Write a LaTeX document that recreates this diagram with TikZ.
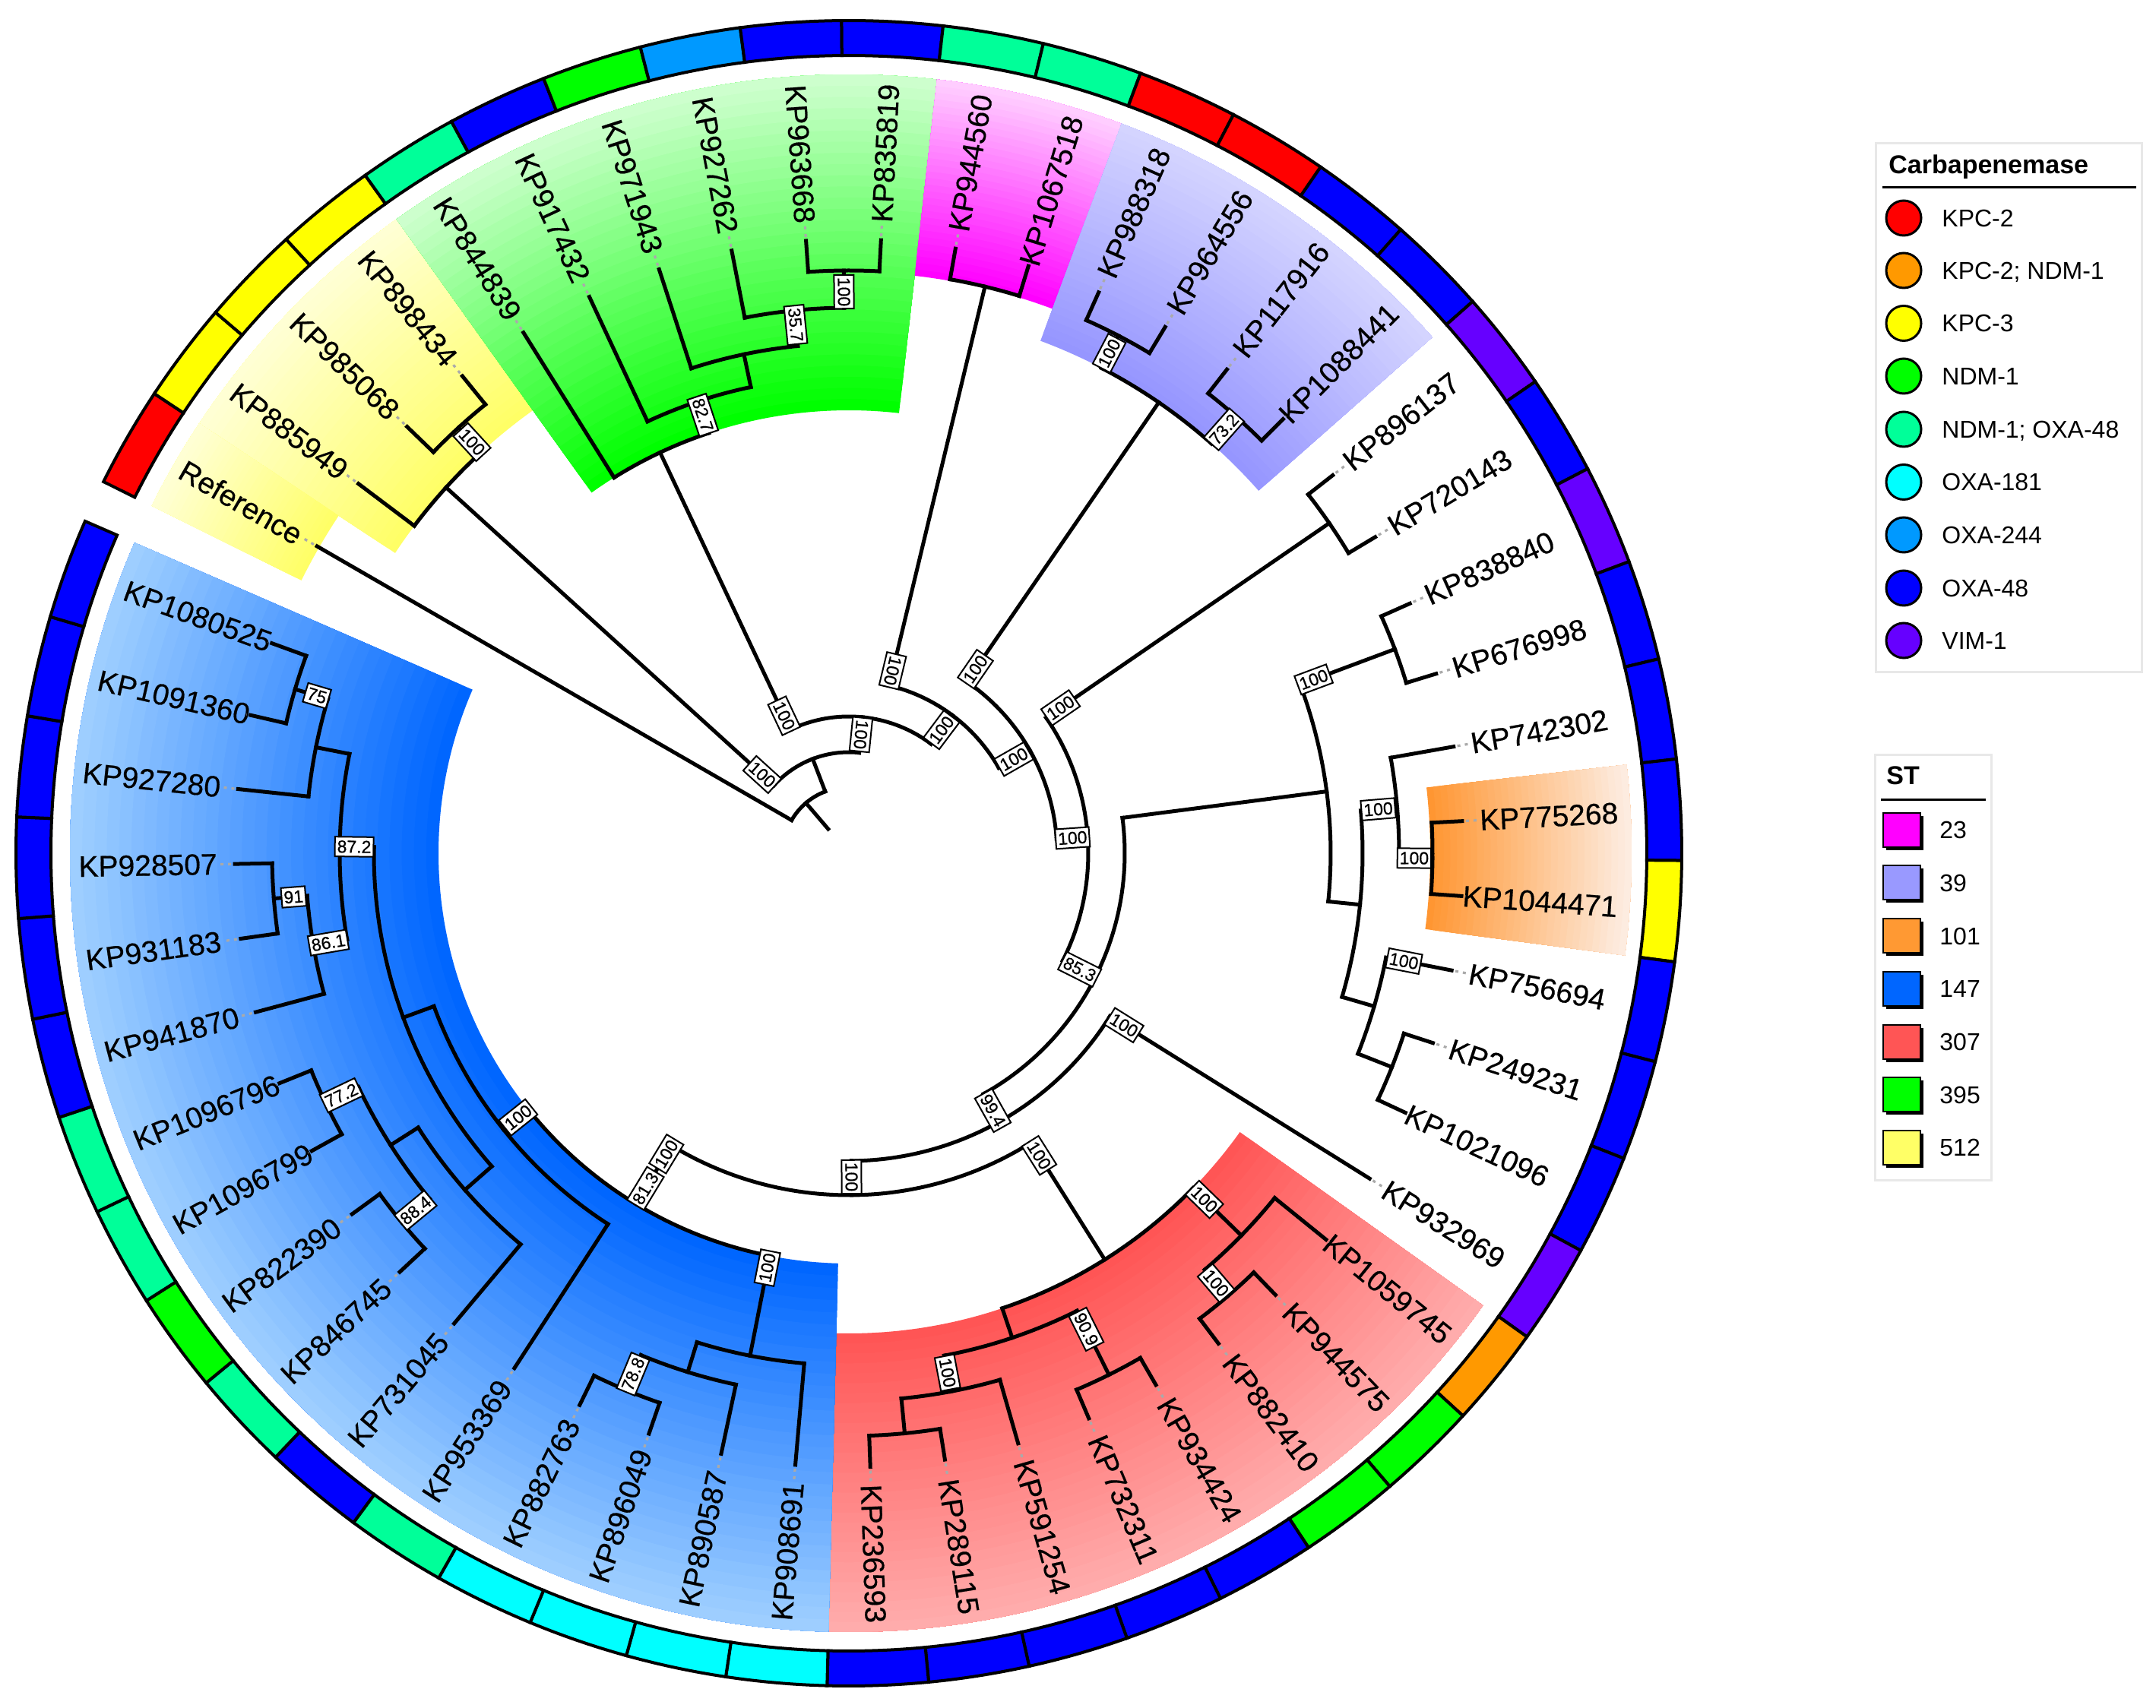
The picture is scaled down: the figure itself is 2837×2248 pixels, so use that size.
\documentclass[tikz,border=0pt]{standalone}
\usepackage{fontspec}
\setmainfont{Liberation Sans}
\newfontfamily\lblfam{Liberation Sans}[BoldFont={Liberation Sans}, BoldFeatures={FakeBold=0.5}]
\definecolor{ckpc2}{RGB}{255,0,0}
\definecolor{ckn}{RGB}{255,153,0}
\definecolor{ckpc3}{RGB}{255,255,0}
\definecolor{cndm}{RGB}{0,255,0}
\definecolor{cno}{RGB}{0,255,153}
\definecolor{c181}{RGB}{0,255,255}
\definecolor{c244}{RGB}{0,153,255}
\definecolor{c48}{RGB}{0,0,255}
\definecolor{cvim}{RGB}{102,0,255}
\definecolor{yIn}{RGB}{255,255,102}\definecolor{yOut}{RGB}{255,255,212}
\definecolor{gIn}{RGB}{0,255,0}\definecolor{gOut}{RGB}{205,255,205}
\definecolor{mIn}{RGB}{255,0,255}\definecolor{mOut}{RGB}{255,205,255}
\definecolor{pIn}{RGB}{150,150,255}\definecolor{pOut}{RGB}{212,212,255}
\definecolor{oIn}{RGB}{255,150,50}\definecolor{oOut}{RGB}{253,236,224}
\definecolor{rIn}{RGB}{255,85,85}\definecolor{rOut}{RGB}{255,172,172}
\definecolor{bIn}{RGB}{0,102,255}\definecolor{bOut}{RGB}{158,206,255}
\definecolor{s23}{RGB}{255,0,255}
\definecolor{s39}{RGB}{153,153,255}
\definecolor{s101}{RGB}{255,153,51}
\definecolor{s147}{RGB}{0,102,255}
\definecolor{s307}{RGB}{255,85,85}
\definecolor{s395}{RGB}{0,255,0}
\definecolor{s512}{RGB}{255,255,102}
\definecolor{dotgray}{RGB}{170,170,170}
\definecolor{boxgray}{RGB}{232,232,232}
\tikzset{
  br/.style={line width=2.5pt, line cap=rect, draw=black},
  dotl/.style={line width=1.6pt, draw=dotgray, dash pattern=on 2pt off 3pt},
  lbl/.style={inner sep=0pt, font=\lblfam\bfseries\fontsize{19.5}{19.5}\selectfont},
  bs/.style={draw=black, fill=white, line width=1pt, inner xsep=1.5pt, inner ysep=2.4pt, font=\lblfam\bfseries\fontsize{11.5}{11.5}\selectfont},
  ringseg/.style={draw=black, line width=2pt},
  legbox/.style={draw=boxgray, line width=1.5pt},
  legtxt/.style={inner sep=0pt, font=\fontsize{16}{16}\selectfont},
  legttl/.style={inner sep=0pt, font=\bfseries\fontsize{17}{17}\selectfont}
}
\newcommand\tarc[3]{\draw[br] (#1:#3) arc[start angle=#1,end angle=#2,radius=#3];}
\newcommand\trad[3]{\draw[br] (#1:#2) -- (#1:#3);}
\newcommand\leafR[4]{\draw[br] (#1:#2) -- (#1:808);
  \node[lbl,anchor=east,rotate=#1] (#4) at (#1:1014) {#3};
  \draw[dotl,shorten >=2pt] (#1:813) -- (#4.west);}
\newcommand\leafL[4]{\draw[br] (#1:#2) -- (#1:808);
  \node[lbl,anchor=west,rotate=#1+180] (#4) at (#1:1014) {#3};
  \draw[dotl,shorten >=2pt] (#1:813) -- (#4.east);}
\newcommand\bsl[5]{\node[bs,rotate=#5] (#4) at (#1:#2) {#3};}
\newcommand\gwedge[6]{%
  \foreach \k in {0,...,29}{%
    \pgfmathsetmacro\gwR{#3+(#4-#3)*\k/30}%
    \pgfmathtruncatemacro\gwP{100-100*\k/29}%
    \fill[#5!\gwP!#6] (#1:\gwR) arc[start angle=#1,end angle=#2,radius=\gwR] -- (#2:#4) arc[start angle=#2,end angle=#1,radius=#4] -- cycle;
  }}
\begin{document}
\begin{tikzpicture}[x=0.5pt,y=0.5pt]
\useasboundingbox (-1117,-1125) rectangle (1720,1123);
\fill[white] (-1117,-1125) rectangle (1720,1123);
% ---------- clade backgrounds ----------
\gwedge{125.5}{146.5}{716}{1025}{yIn}{yOut}
\gwedge{146.5}{153.5}{805}{1025}{yIn}{yOut}
\gwedge{83.5}{125.5}{583}{1025}{gIn}{gOut}
\gwedge{69.5}{83.5}{765}{1025}{mIn}{mOut}
\gwedge{41.5}{69.5}{720}{1025}{pIn}{pOut}
\gwedge{-7.5}{6.5}{765}{1030}{oIn}{oOut}
\gwedge{-91.5}{-35.5}{632}{1025}{rIn}{rOut}
\gwedge{-203.5}{-91.5}{540}{1025}{bIn}{bOut}
% ---------- carbapenemase ring ----------
\foreach \i/\c in {0/ckpc2,1/ckpc3,2/ckpc3,3/ckpc3,4/cno,5/c48,6/cndm,7/c244,8/c48,9/c48,
  10/cno,11/cno,12/ckpc2,13/ckpc2,14/c48,15/c48,16/cvim,17/c48,18/cvim,19/c48,
  20/c48,21/c48,22/ckpc3,23/c48,24/c48,25/c48,26/cvim,27/ckn,28/cndm,29/cndm,
  30/c48,31/c48,32/c48,33/c48,34/c48,35/c181,36/c181,37/c181,38/c181,39/cno,
  40/c48,41/cno,42/cndm,43/cno,44/cno,45/c48,46/c48,47/c48,48/c48,49/c48,50/c48}{
  \pgfmathsetmacro\rgA{150-7*\i+3.5}
  \pgfmathsetmacro\rgB{150-7*\i-3.5}
  \filldraw[ringseg,fill=\c] (\rgA:1050) arc[start angle=\rgA,end angle=\rgB,radius=1050] -- (\rgB:1096) arc[start angle=\rgB,end angle=\rgA,radius=1096] -- cycle;
}
% ---------- tree: backbone ----------
\trad{130.48}{42}{87}
\tarc{110.955}{150}{87}
\leafL{150}{87}{Reference}{lRef}
\trad{110.955}{87}{133}
\tarc{84.16}{137.75}{133}
% yellow clade
\trad{137.75}{133}{716}
\tarc{132.5}{143}{716}
\leafL{143}{716}{KP885949}{l1}
\trad{132.5}{716}{760}
\tarc{129}{136}{760}
\leafL{136}{760}{KP985068}{l2}
\leafL{129}{760}{KP898434}{l3}
% N3
\trad{84.16}{133}{180}
\tarc{53.1}{115.22}{180}
% green clade
\trad{115.22}{180}{583}
\tarc{108.4375}{122}{583}
\leafL{122}{583}{KP844839}{l4}
\trad{108.4375}{583}{627}
\tarc{101.875}{115}{627}
\leafL{115}{627}{KP917432}{l5}
\trad{101.875}{627}{671}
\tarc{95.75}{108}{671}
\leafL{108}{671}{KP971943}{l6}
\trad{95.75}{671}{718}
\tarc{90.5}{101}{718}
\leafL{101}{718}{KP927262}{l7}
\trad{90.5}{718}{767}
\tarc{87}{94}{767}
\leafL{94}{767}{KP963668}{l8}
\leafR{87}{767}{KP835819}{l9}
% N4
\trad{53.1}{180}{227}
\tarc{29.7}{76.5}{227}
% magenta
\trad{76.5}{227}{767}
\tarc{73}{80}{767}
\leafR{80}{767}{KP944560}{l10}
\leafR{73}{767}{KP1067518}{l11}
% N5
\trad{29.7}{227}{274}
\tarc{3.9}{55.5}{274}
% purple
\trad{55.5}{274}{720}
\tarc{48.5}{62.5}{720}
\trad{62.5}{720}{768}
\tarc{59}{66}{768}
\leafR{66}{768}{KP988318}{l12}
\leafR{59}{768}{KP964556}{l13}
\trad{48.5}{720}{768}
\tarc{45}{52}{768}
\leafR{52}{768}{KP117916}{l14}
\leafR{45}{768}{KP1088441}{l15}
% N6
\trad{3.9}{274}{315}
\tarc{-26.7}{34.5}{315}
\trad{34.5}{315}{767}
\tarc{31}{38}{767}
\leafR{38}{767}{KP896137}{l16}
\leafR{31}{767}{KP720143}{l17}
% N7
\trad{-26.7}{315}{363}
\tarc{-60.77}{7.375}{363}
% right clade
\trad{7.375}{363}{634}
\tarc{-5.75}{20.5}{634}
\trad{20.5}{634}{767}
\tarc{17}{24}{767}
\leafR{24}{767}{KP838840}{l18}
\leafR{17}{767}{KP676998}{l19}
\trad{-5.75}{634}{676}
\tarc{-16.25}{4.75}{676}
\trad{4.75}{676}{724}
\tarc{-0.5}{10}{724}
\leafR{10}{724}{KP742302}{l20}
\trad{-0.5}{724}{768}
\tarc{-4}{3}{768}
\leafR{3}{768}{KP775268}{l21}
\leafR{-4}{768}{KP1044471}{l22}
\trad{-16.25}{676}{720}
\tarc{-21.5}{-11}{720}
\leafR{-11}{720}{KP756694}{l23}
\trad{-21.5}{720}{768}
\tarc{-25}{-18}{768}
\leafR{-18}{768}{KP249231}{l24}
\leafR{-25}{768}{KP1021096}{l25}
% N8
\trad{-60.77}{363}{405}
\tarc{-89.53}{-32}{405}
\leafR{-32}{405}{KP932969}{l26}
% N9
\trad{-89.53}{405}{450}
\tarc{-121.25}{-57.81}{450}
% red clade
\trad{-57.81}{450}{632}
\tarc{-71.375}{-44.25}{632}
\trad{-44.25}{632}{721}
\tarc{-49.5}{-39}{721}
\leafR{-39}{721}{KP1059745}{l27}
\trad{-49.5}{721}{767}
\tarc{-53}{-46}{767}
\leafR{-46}{767}{KP944575}{l28}
\leafR{-53}{767}{KP882410}{l29}
\trad{-71.375}{632}{673}
\tarc{-79.25}{-63.5}{673}
\trad{-63.5}{673}{767}
\tarc{-67}{-60}{767}
\leafR{-60}{767}{KP934424}{l30}
\leafR{-67}{767}{KP732311}{l31}
\trad{-79.25}{673}{721}
\tarc{-84.5}{-74}{721}
\leafR{-74}{721}{KP591254}{l32}
\trad{-84.5}{721}{767}
\tarc{-88}{-81}{767}
\leafR{-81}{767}{KP289115}{l33}
\leafR{-88}{767}{KP236593}{l34}
% blue clade
\trad{-121.25}{450}{540}
\tarc{-141.375}{-101.125}{540}
\trad{-101.125}{540}{674}
\tarc{-107.25}{-95}{674}
\leafL{-95}{674}{KP908691}{l35}
\trad{-107.25}{674}{715}
\tarc{-112.5}{-102}{715}
\leafL{-102}{715}{KP890587}{l36}
\trad{-112.5}{715}{765}
\tarc{-116}{-109}{765}
\leafL{-109}{765}{KP896049}{l37}
\leafL{-116}{765}{KP882763}{l38}
\trad{-141.375}{540}{582}
\tarc{-159.75}{-123}{582}
\leafL{-123}{582}{KP953369}{l39}
\trad{-159.75}{582}{625}
\tarc{-180.75}{-138.75}{625}
\trad{-138.75}{625}{672}
\tarc{-147.5}{-130}{672}
\leafL{-130}{672}{KP731045}{l40}
\trad{-147.5}{672}{715}
\tarc{-154.5}{-140.5}{715}
\trad{-140.5}{715}{763}
\tarc{-144}{-137}{763}
\leafL{-137}{763}{KP846745}{l41}
\leafL{-144}{763}{KP822390}{l42}
\trad{-154.5}{715}{763}
\tarc{-158}{-151}{763}
\leafL{-151}{763}{KP1096799}{l43}
\leafL{-158}{763}{KP1096796}{l44}
\trad{-180.75}{625}{670}
\tarc{-191.25}{-170.25}{670}
\trad{-170.25}{670}{715}
\tarc{-175.5}{-165}{715}
\leafL{-165}{715}{KP941870}{l45}
\trad{-175.5}{715}{759}
\tarc{-179}{-172}{759}
\leafL{-172}{759}{KP931183}{l46}
\leafL{-179}{759}{KP928507}{l47}
\trad{-191.25}{670}{715}
\tarc{-196.5}{-186}{715}
\leafL{-186}{715}{KP927280}{l48}
\trad{-196.5}{715}{760}
\tarc{-200}{-193}{760}
\leafL{-193}{760}{KP1091360}{l49}
\leafL{-200}{760}{KP1080525}{l50}
% ---------- bootstrap values ----------
\bsl{137.75}{154}{100}{bY}{-42.25}
\bsl{84.16}{157}{100}{bN3}{-95.84}
\bsl{115.22}{200}{100}{bG}{-64.78}
\bsl{76.5}{247}{100}{bM}{-103.5}
\bsl{53.1}{203}{100}{bN4}{53.1}
\bsl{55.5}{294}{100}{bP}{55.5}
\bsl{29.7}{250}{100}{bN5}{29.7}
\bsl{34.5}{338}{100}{bK}{34.5}
\bsl{3.9}{295}{100}{bN6}{3.9}
\bsl{-26.7}{340}{85.3}{bN7}{-26.7}
\bsl{-32}{427}{100}{bL26}{-32}
\bsl{-60.77}{388}{99.4}{bN8}{-60.77}
\bsl{-57.81}{470}{100}{bRR}{-57.81}
\bsl{-89.53}{426}{100}{bN9}{-89.53}
\bsl{-121.25}{463}{100}{bNa}{58.75}
\bsl{-121.25}{516}{81.3}{bNb}{58.75}
\bsl{-101.125}{556}{100}{bB14}{78.875}
\bsl{-141.375}{557}{100}{bB13}{38.625}
\bsl{-112.5}{742}{78.8}{bB16}{67.5}
\bsl{-180.75}{651}{87.2}{bB3}{-0.75}
\bsl{-196.5}{730}{75}{bB1}{-16.5}
\bsl{-175.5}{733}{91}{bB5}{4.5}
\bsl{-170.25}{695}{86.1}{bB6}{9.75}
\bsl{-154.5}{740}{77.2}{bB8}{25.5}
\bsl{-140.5}{739}{88.4}{bB9}{39.5}
\bsl{-44.25}{653}{100}{bRr1}{-44.25}
\bsl{-49.5}{744}{100}{bRr2}{-49.5}
\bsl{-63.5}{700}{90.9}{bRl2}{-63.5}
\bsl{-79.25}{696}{100}{bRl3}{-79.25}
\bsl{20.5}{653}{100}{bRa}{20.5}
\bsl{4.75}{699}{100}{bRd}{4.75}
\bsl{-0.5}{744}{100}{bRf}{-0.5}
\bsl{-11}{744}{100}{bL23}{-11}
\bsl{62.5}{742}{100}{bPa}{62.5}
\bsl{48.5}{745}{73.2}{bPb}{48.5}
\bsl{108.4375}{608}{82.7}{bG2}{-71.56}
\bsl{95.75}{699}{35.7}{bG4}{-84.25}
\bsl{90.5}{739}{100}{bG5}{-89.5}
\bsl{132.5}{734}{100}{bY2}{-47.5}
% ---------- legend: carbapenemase ----------
\draw[legbox] (1351,238) rectangle (1701,934);
\node[legttl,anchor=base west] (ctitle) at (1368,894) {Carbapenemase};
\draw[line width=1.5pt] (1360,876) -- (1694,876);
\foreach \y/\c/\tx [count=\n] in {836/ckpc2/KPC-2,767/ckn/{KPC-2; NDM-1},697.5/ckpc3/KPC-3,628/cndm/NDM-1,558/cno/{NDM-1; OXA-48},488.5/c181/OXA-181,419/c244/OXA-244,349/c48/OXA-48,280/cvim/VIM-1}{
  \filldraw[fill=\c,draw=black,line width=1.5pt] (1388,\y) circle[radius=23];
  \node[legtxt,anchor=base west] (ci\n) at (1438,\y-11.5) {\tx};
}
% ---------- legend: ST ----------
\draw[legbox] (1350,-430) rectangle (1503,129);
\node[legttl,anchor=base west] (stitle) at (1365,90) {ST};
\draw[line width=1.5pt] (1358,70) -- (1496,70);
\foreach \y/\c/\tx [count=\n] in {30.5/s23/23,-39/s39/39,-109/s101/101,-178.4/s147/147,-248/s307/307,-317.7/s395/395,-387/s512/512}{
  \fill[black] (1365,\y-26.5) rectangle (1414,\y+18.5);
  \filldraw[fill=\c,draw=black,line width=1pt] (1361,\y-22.5) rectangle (1410,\y+22.5);
  \node[legtxt,anchor=base west] (si\n) at (1435,\y-11.5) {\tx};
}
\end{tikzpicture}
\end{document}
